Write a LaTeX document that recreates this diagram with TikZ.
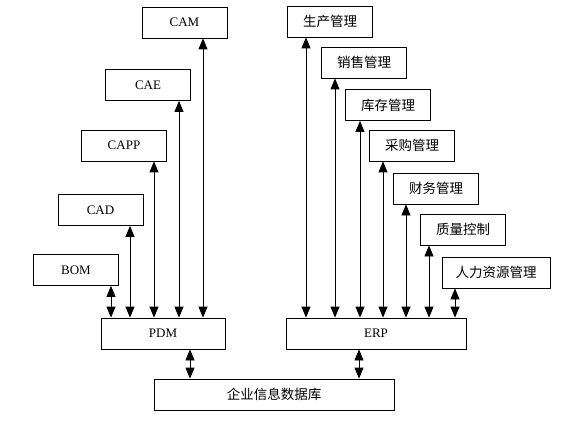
\documentclass[tikz,border=0pt]{standalone}
\usepackage{fontspec}
\setmainfont{Liberation Serif}
\newfontfamily\cjk{Noto Sans CJK SC}
\usetikzlibrary{arrows.meta}

\begin{document}
\begin{tikzpicture}[x=1pt, y=-1pt,
    box/.style={draw, line width=0.8pt, minimum width=85pt, minimum height=31pt, inner sep=0pt, font=\fontsize{13}{15}\selectfont},
    zbox/.style={box, font=\fontsize{13.5}{15}\selectfont\cjk},
    link/.style={line width=0.8pt, {Triangle[length=11pt,width=9pt]}-{Triangle[length=11pt,width=9pt]}}]
\useasboundingbox (0,0) rectangle (566,428);
% left side
\node[box] (cam) at (184.5,22.5) {CAM};
\node[box] (cae) at (148,85) {CAE};
\node[box] (capp) at (124,145.5) {CAPP};
\node[box] (cad) at (100.5,210) {CAD};
\node[box] (bom) at (76,270) {BOM};
\node[box, minimum width=124pt] (pdm) at (163,333.5) {PDM};
% right side
\node[zbox] (prod) at (330,21.5) {生产管理};
\node[zbox] (sales) at (364,62.5) {销售管理};
\node[zbox] (stock) at (388,105) {库存管理};
\node[zbox] (purch) at (412,145.5) {采购管理};
\node[zbox] (fin) at (436,188.5) {财务管理};
\node[zbox] (qual) at (463,229.5) {质量控制};
\node[zbox, minimum width=108pt] (hr) at (496,272.5) {人力资源管理};
\node[box, minimum width=180pt] (erp) at (376,333.5) {ERP};
% database
\node[zbox, minimum width=240pt] (db) at (274,394.5) {企业信息数据库};
% links to PDM
\draw[link] (cam.south -| 203,0) -- (pdm.north -| 203,0);
\draw[link] (cae.south -| 179,0) -- (pdm.north -| 179,0);
\draw[link] (capp.south -| 154,0) -- (pdm.north -| 154,0);
\draw[link] (cad.south -| 130,0) -- (pdm.north -| 130,0);
\draw[link] (bom.south -| 111,0) -- (pdm.north -| 111,0);
% links to ERP
\draw[link] (prod.south -| 306,0) -- (erp.north -| 306,0);
\draw[link] (sales.south -| 335,0) -- (erp.north -| 335,0);
\draw[link] (stock.south -| 360,0) -- (erp.north -| 360,0);
\draw[link] (purch.south -| 383,0) -- (erp.north -| 383,0);
\draw[link] (fin.south -| 406,0) -- (erp.north -| 406,0);
\draw[link] (qual.south -| 429,0) -- (erp.north -| 429,0);
\draw[link] (hr.south -| 455,0) -- (erp.north -| 455,0);
% links to database
\draw[link] (pdm.south -| 190,0) -- (db.north -| 190,0);
\draw[link] (erp.south -| 359,0) -- (db.north -| 359,0);
\end{tikzpicture}
\end{document}
